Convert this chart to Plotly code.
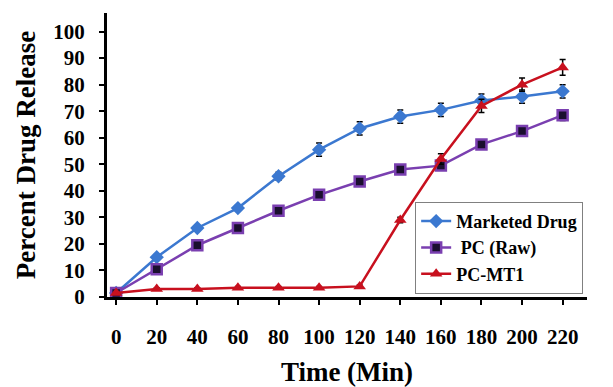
import plotly.graph_objects as go

time_min = [0, 20, 40, 60, 80, 100, 120, 140, 160, 180, 200, 220]
marketed = [1.5, 15, 26, 33.5, 45.5, 55.5, 63.5, 68, 70.5, 74, 75.5, 77.5]
pc_raw = [1.5, 10.5, 19.5, 26, 32.5, 38.5, 43.5, 48, 49.5, 57.5, 62.5, 68.5]
pc_mt1 = [1.5, 3, 3, 3.5, 3.5, 3.5, 4, 29, 52, 72, 80, 86.5]
err_marketed = [0, 1, 1, 1, 1.5, 2.5, 2.5, 2.5, 2.5, 2.5, 2.5, 2.5]
err_raw = [0, 1, 1, 1, 1, 1, 1, 1, 1, 1.5, 1.5, 2]
err_mt1 = [0, 0.5, 0.5, 0.5, 0.5, 0.5, 0.5, 1, 2, 2.5, 2.5, 3]
y_ticks = list(range(0, 101, 10))
x_ticks = time_min

FONT = "Liberation Serif, Times New Roman, serif"

fig = go.Figure()
fig.add_trace(go.Scatter(
    x=time_min, y=marketed, name="Marketed Drug", mode="lines+markers",
    line=dict(color="#3B78D0", width=2.5),
    marker=dict(symbol="diamond", size=11, color="#3B78D0"),
    error_y=dict(type="data", array=err_marketed, color="black", thickness=1.5, width=3),
))
fig.add_trace(go.Scatter(
    x=time_min, y=pc_raw, name=" PC (Raw)", mode="lines+markers",
    line=dict(color="#7A3FB0", width=2.5),
    marker=dict(symbol="square", size=10, color="#1A0F2E", line=dict(color="#7A3FB0", width=2.5)),
    error_y=dict(type="data", array=err_raw, color="black", thickness=1.5, width=3),
))
fig.add_trace(go.Scatter(
    x=time_min, y=pc_mt1, name="PC-MT1", mode="lines+markers",
    line=dict(color="#C8101E", width=2.5),
    marker=dict(symbol="triangle-up", size=11, color="#C8101E"),
    error_y=dict(type="data", array=err_mt1, color="black", thickness=1.5, width=3),
))

fig.update_layout(
    width=613, height=387,
    margin=dict(l=107, r=26, t=13, b=90),
    paper_bgcolor="white", plot_bgcolor="white",
    font=dict(family=FONT, color="black"),
    showlegend=True,
    legend=dict(
        x=0.642, y=0.335, xanchor="left", yanchor="top",
        bordercolor="#808080", borderwidth=1, bgcolor="white",
        font=dict(family=FONT, size=18, color="black", weight="bold"),
        tracegroupgap=0, itemwidth=30,
    ),
    xaxis=dict(
        range=[-4.5, 232], tickvals=x_ticks, ticktext=[str(v) for v in x_ticks],
        showline=True, linecolor="black", linewidth=3, mirror=False,
        ticks="outside", ticklen=5, tickwidth=2, tickcolor="black",
        tickfont=dict(family=FONT, size=21, weight="bold"),
        ticklabelstandoff=14, automargin=False,
        showgrid=False, zeroline=False,
        title=dict(text="Time (Min)", font=dict(family=FONT, size=27, weight="bold"), standoff=20),
    ),
    yaxis=dict(
        range=[0, 107], tickvals=y_ticks, ticktext=[str(v) for v in y_ticks],
        showline=True, linecolor="black", linewidth=3,
        ticks="outside", ticklen=5, tickwidth=2, tickcolor="black",
        tickfont=dict(family=FONT, size=21, weight="bold"),
        ticklabelstandoff=10, automargin=False,
        showgrid=False, zeroline=False,
        title=dict(text="Percent Drug Release", font=dict(family=FONT, size=27, weight="bold"), standoff=10),
    ),
)

fig.write_html("out.html")
